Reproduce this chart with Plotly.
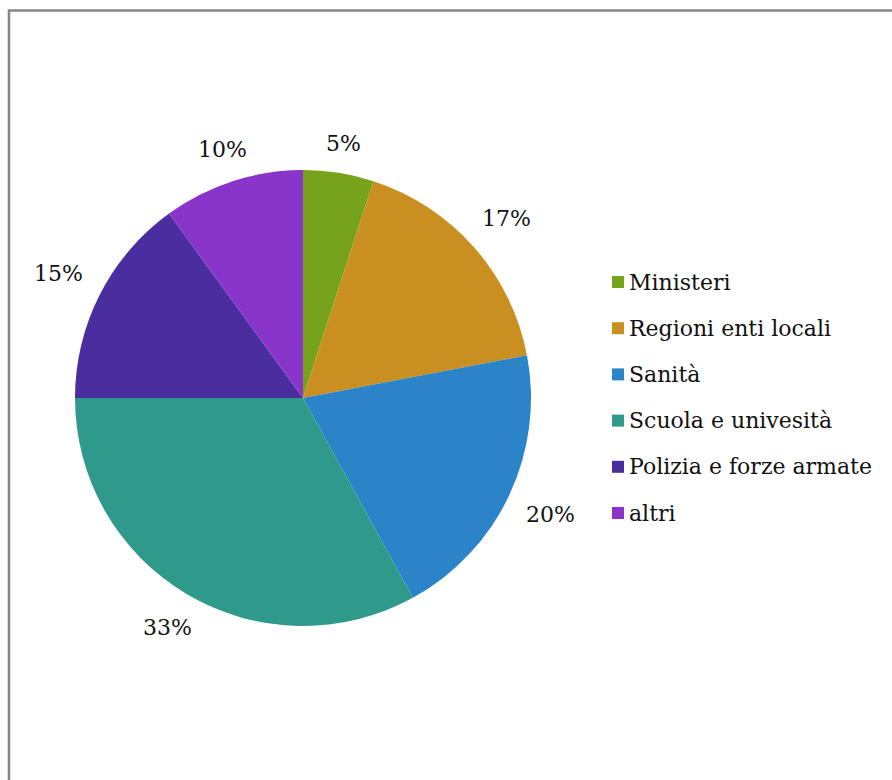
import math
import plotly.graph_objects as go

# Share of public employees by sector
categories = ["Ministeri", "Regioni enti locali", "Sanità", "Scuola e univesità",
              "Polizia e forze armate", "altri"]
values = [5, 17, 20, 33, 15, 10]
colors = ["#77a31c", "#c98f20", "#2a84c7", "#2f9a8b", "#4a2d9f", "#8a35c9"]

W, H = 892, 780
CX, CY, R = 303, 398, 228          # pie centre and radius in pixels
FONT = "DejaVu Serif"


def px(x):
    return x / W


def py(y):
    return 1 - y / H


fig = go.Figure()
fig.add_trace(go.Pie(
    labels=categories,
    values=values,
    sort=False,
    direction="clockwise",
    rotation=0,
    marker=dict(colors=colors, line=dict(width=0)),
    textinfo="none",
    hoverinfo="label+percent",
    showlegend=False,
    domain=dict(x=[px(CX - R), px(CX + R)], y=[py(CY + R), py(CY - R)]),
))

annotations = []
total = sum(values)
cum = 0
for v in values:
    mid = (cum + v / 2) / total * 2 * math.pi
    cum += v
    ux, uy = math.sin(mid), -math.cos(mid)
    # push the label out so its box clears the rim by a fixed gap
    extent = 26 * abs(ux) + 6 * abs(uy)
    r = R + 20 + extent
    annotations.append(dict(
        x=px(CX + r * ux), y=py(CY + r * uy), xref="paper", yref="paper",
        text=f"{round(v / total * 100)}%", showarrow=False,
        xanchor="center", yanchor="middle",
        font=dict(family=FONT, size=22, color="#111111"),
    ))

# Legend drawn as swatches + labels
shapes = []
LX, LY0, STEP, SW = 612, 282, 46.2, 12
for i, (name, c) in enumerate(zip(categories, colors)):
    yc = LY0 + i * STEP
    shapes.append(dict(type="rect", xref="paper", yref="paper",
                       x0=px(LX), x1=px(LX + SW), y0=py(yc + SW / 2), y1=py(yc - SW / 2),
                       fillcolor=c, line=dict(width=0)))
    annotations.append(dict(
        x=px(LX + SW + 3), y=py(yc), xref="paper", yref="paper",
        text=name, showarrow=False, xanchor="left", yanchor="middle",
        font=dict(family=FONT, size=22, color="#111111"),
    ))

# Chart frame (top and left edges visible)
shapes.append(dict(type="rect", xref="paper", yref="paper",
                   x0=px(9), x1=1.05, y0=-0.05, y1=py(10.5),
                   line=dict(color="#858585", width=2.5), fillcolor="rgba(0,0,0,0)"))

fig.update_layout(
    width=W, height=H,
    margin=dict(l=0, r=0, t=0, b=0),
    paper_bgcolor="white",
    plot_bgcolor="white",
    font=dict(family=FONT),
    annotations=annotations,
    shapes=shapes,
)

fig.write_html("out.html")
